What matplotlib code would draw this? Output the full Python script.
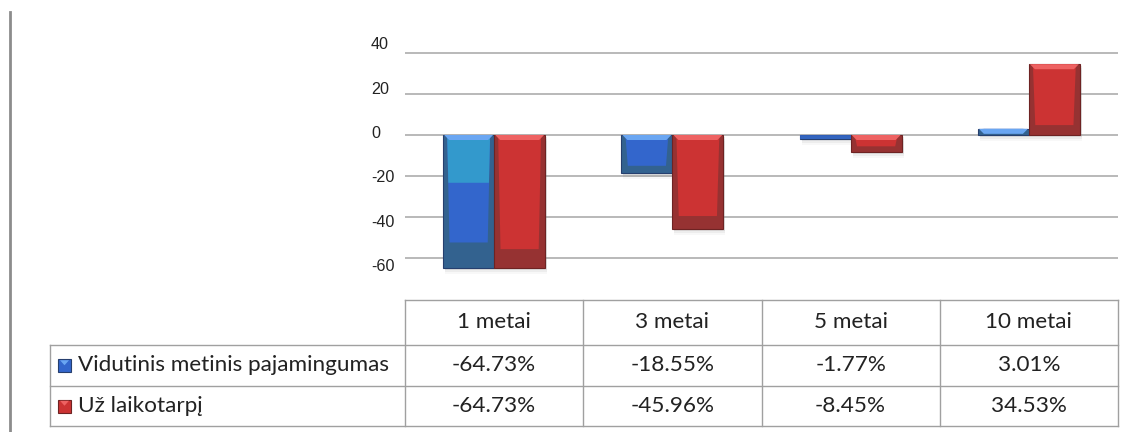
import numpy as np
import matplotlib.pyplot as plt
from matplotlib.patches import Rectangle, Polygon
from matplotlib.lines import Line2D

plt.rcParams['axes.unicode_minus'] = False

# Fund returns by period
periods = ['1 metai', '3 metai', '5 metai', '10 metai']
series_names = ['Vidutinis metinis pajamingumas', 'Už laikotarpį']
avg_annual = [-64.73, -18.55, -1.77, 3.01]
whole_period = [-64.73, -45.96, -8.45, 34.53]
y_ticks = [-60, -40, -20, 0, 20, 40]

# colours: (dark base, main body, light top band, bevel highlight, edge)
blue_cols = ('#33628f', '#3366cc', '#3399cc', '#6aa6f2', '#263f6e')
red_cols = ('#963232', '#cc3333', '#cc3333', '#ee6262', '#6e2323')

W, H = 1137, 432
fig = plt.figure(figsize=(W / 100, H / 100), dpi=100)

# pixel helpers for placing axes
def fx(px):
    return px / W

def fy(px):
    return 1 - px / H

# chart area
ylo, yhi = -72, 46
zero_px, px_per_unit = 135, 41 / 20
top_px = zero_px - yhi * px_per_unit
bot_px = zero_px - ylo * px_per_unit
x0, x1 = 405, 1118
ax = fig.add_axes([fx(x0), fy(bot_px), fx(x1 - x0), (bot_px - top_px) / H])
ax.set_xlim(-0.5, len(periods) - 0.5)
ax.set_ylim(ylo, yhi)
for s in ax.spines.values():
    s.set_visible(False)
ax.set_xticks([])
ax.set_yticks(y_ticks)
ax.tick_params(axis='y', length=0, labelleft=False)
ax.yaxis.grid(True, color='#a6a6a6', linewidth=1.1)
ax.set_axisbelow(True)

# tick labels sit on a slightly different scale than the gridlines
lab = ax.twinx()
lab_zero, lab_scale = 132, 2.215
lab.set_ylim((lab_zero - bot_px) / lab_scale, (lab_zero - top_px) / lab_scale)
lab.set_yticks(y_ticks)
lab.yaxis.tick_left()
lab.tick_params(axis='y', length=0, pad=24.5, labelsize=11.6, labelcolor='#222222',
                labelfontfamily='Liberation Sans')
for t in lab.get_yticklabels():
    t.set_horizontalalignment('left')
for s in lab.spines.values():
    s.set_visible(False)

bw = 0.286
xs = np.arange(len(periods))
uy = 1 / px_per_unit          # data units per pixel (y)
ux = 4 / (x1 - x0)            # data units per pixel (x)


def shaded_bars(offset, values, cols, dark_frac, band_frac):
    dark, main, band, bevel, edge = cols
    bars = ax.bar(xs + offset, values, bw, color=dark, edgecolor=edge,
                  linewidth=0.8, zorder=3)
    for b in bars:
        x, w = b.get_x(), b.get_width()
        y_top = max(b.get_y(), b.get_y() + b.get_height())
        y_bot = min(b.get_y(), b.get_y() + b.get_height())
        h = y_top - y_bot
        # soft shadow under the bar
        for k, a in zip((2, 4, 6), (0.14, 0.09, 0.05)):
            ax.add_patch(Rectangle((x + 2 * ux, y_bot - k * uy), w, h,
                                   color='#808080', alpha=a, lw=0, zorder=2))
        if h * px_per_unit < 6:
            ax.add_patch(Rectangle((x, y_bot), w, h, color=main, lw=0,
                                   zorder=4, alpha=0.8))
            continue
        m = 4 * ux
        inner_bot = y_bot + max(dark_frac * h, 6 * uy)
        ax.add_patch(Polygon([(x + m, y_top), (x + w - m, y_top),
                              (x + w - m * 1.6, inner_bot), (x + m * 1.6, inner_bot)],
                             closed=True, color=main, lw=0, zorder=4))
        if band != main and h > 40:
            band_bot = y_top - band_frac * h
            ax.add_patch(Polygon([(x + m, y_top), (x + w - m, y_top),
                                  (x + w - m * 1.3, band_bot), (x + m * 1.3, band_bot)],
                                 closed=True, color=band, lw=0, zorder=4))
        bv = 5 * uy
        ax.add_patch(Polygon([(x + 1 * ux, y_top), (x + w - 1 * ux, y_top),
                              (x + w - 6 * ux, y_top - bv), (x + 6 * ux, y_top - bv)],
                             closed=True, color=bevel, lw=0, zorder=5))


shaded_bars(-bw / 2, avg_annual, blue_cols, 0.19, 0.36)
shaded_bars(bw / 2, whole_period, red_cols, 0.14, 0.0)

# data table drawn in figure pixel space
tab = fig.add_axes([0, 0, 1, 1])
tab.set_xlim(0, W)
tab.set_ylim(H, 0)
tab.axis('off')
tab.patch.set_alpha(0)

# left page rule
tab.add_line(Line2D([9.5, 9.5], [12, H], color='#8c8c8c', lw=2))

grid_c = '#a0a0a0'
col_x = np.linspace(x0, x1, len(periods) + 1)
row_y = [300, 345, 385.5, 426]
lab_left = 50

tab.add_line(Line2D([x0, x1], [row_y[0]] * 2, color=grid_c, lw=1))
for ry in row_y[1:]:
    tab.add_line(Line2D([lab_left, x1], [ry] * 2, color=grid_c, lw=1))
for cx in col_x:
    tab.add_line(Line2D([cx, cx], [row_y[0], row_y[-1]], color=grid_c, lw=1))
tab.add_line(Line2D([lab_left, lab_left], [row_y[1], row_y[-1]], color=grid_c, lw=1))

tfont = dict(family='Lato', fontsize=16.2, color='#222222', va='center')
for i, p in enumerate(periods):
    cx = (col_x[i] + col_x[i + 1]) / 2
    tab.text(cx, (row_y[0] + row_y[1]) / 2, p, ha='center', **tfont)
    tab.text(cx, (row_y[1] + row_y[2]) / 2, f'{avg_annual[i]:.2f}%', ha='center', **tfont)
    tab.text(cx, (row_y[2] + row_y[3]) / 2, f'{whole_period[i]:.2f}%', ha='center', **tfont)

for r, (name, cols) in enumerate(zip(series_names, (blue_cols, red_cols))):
    cy = (row_y[r + 1] + row_y[r + 2]) / 2
    tab.add_patch(Rectangle((58, cy - 6), 13, 13, facecolor=cols[1],
                            edgecolor=cols[4], lw=0.8))
    tab.add_patch(Polygon([(60, cy - 5), (69, cy - 5), (64.5, cy)],
                          closed=True, color=cols[3], lw=0))
    tab.text(78, cy, name, ha='left', **tfont)

fig.savefig('out.png', dpi=100)
